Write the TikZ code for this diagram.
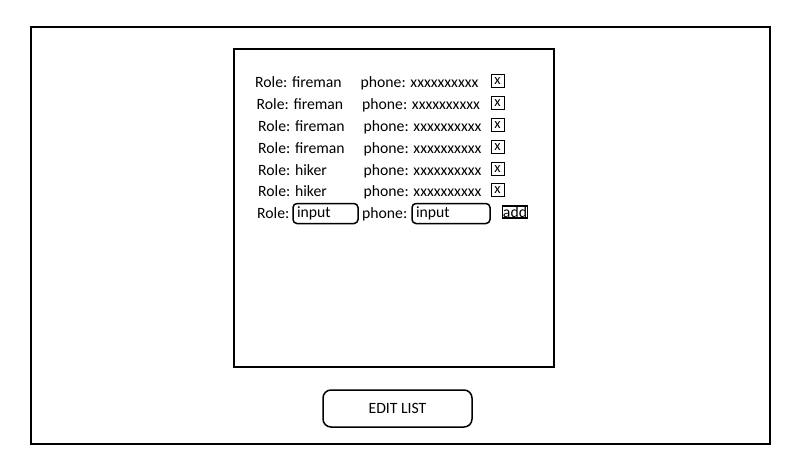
\documentclass[tikz,border=0pt]{standalone}
\usepackage{fontspec}
\setmainfont{Carlito}
\usetikzlibrary{positioning}
\tikzset{main base/.style={draw,thick,text centered, }, }
\tikzset{main node/.style={rectangle, draw,rounded corners,main base}, }
\tikzset{main text/.style={inner sep=0pt,anchor=base west,font=\fontsize{15.7}{18}\selectfont}, }
\tikzset{frame/.style={rectangle,draw,line width=2pt,inner sep=0pt}, }
\tikzset{xbox/.style={rectangle,draw,line width=0.9pt,minimum width=13pt,minimum height=13pt,inner sep=0pt,font=\fontsize{14.5}{14}\selectfont}, }
\tikzset{field/.style={main node,line width=1.5pt,rounded corners=4pt,minimum height=20pt,inner xsep=4pt,inner ysep=0pt,align=left,font=\fontsize{15.7}{18}\selectfont}, }
\tikzset{addbox/.style={rectangle,draw,line width=1.6pt,inner sep=0.6pt,font=\fontsize{15.7}{18}\selectfont}, }
\begin{document}
\begin{tikzpicture}[x=1pt,y=-1pt]
  \useasboundingbox[fill=white] (0,0) rectangle (800,474);
    \node[frame,minimum width=739pt,minimum height=417pt] (1) at (400.5,235.5) {};
    \node[frame,minimum width=320pt,minimum height=318pt] (2) at (394,208) {};
%    
    \node[main node,line width=1.5pt,rounded corners=8pt,minimum width=149pt,minimum height=37pt,font=\fontsize{15.7}{18}\selectfont] (3) at (397.5,408.5) {EDIT LIST};
%
\foreach \n/\r/\x/\y in {1/fireman/255/87,2/fireman/256.5/109,3/fireman/258/131,4/fireman/258/153,5/hiker/258/175,6/hiker/258/196}
{
    \node[main text] (r\n) at (\x,\y) {Role: \r};
    \node[main text] (p\n) at (\x+105.5,\y) {phone: xxxxxxxxxx};
    \node[xbox] (x\n) at (497.5,\y-6) {x};
}
%
    \node[main text] (r7) at (257,218) {Role:};
    \node[field,text width=57pt] (f1) at (325.5,213.5) {input};
    \node[main text] (p7) at (362,218) {phone:};
    \node[field,text width=70pt] (f2) at (451,213.5) {input};
    \node[addbox] (4) at (515,212) {add};
\end{tikzpicture}
\end{document}
